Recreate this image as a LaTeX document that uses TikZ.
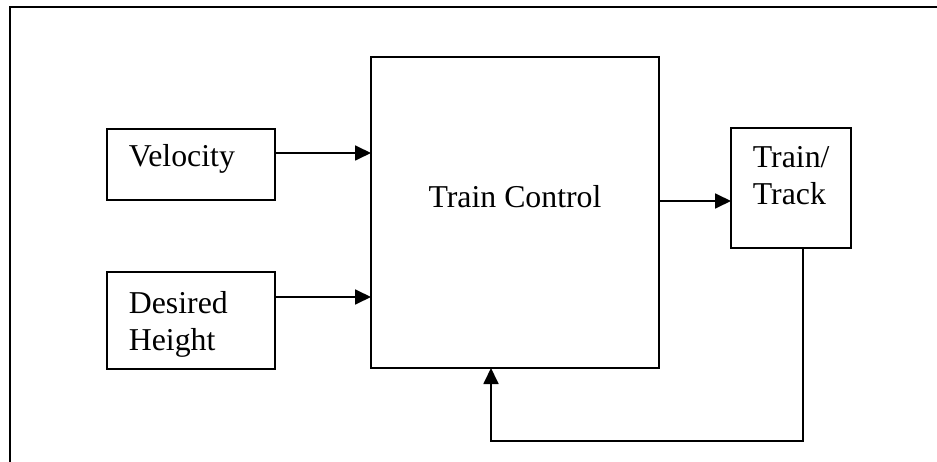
\documentclass[tikz,border=0pt]{standalone}
\usepackage{fontspec}
\setmainfont{Liberation Serif}
\usetikzlibrary{arrows.meta}

\begin{document}
\begin{tikzpicture}[x=1pt,y=-1pt,
  line width=1.8pt,
  blockbox/.style={draw=black, rectangle, inner sep=0pt, outer sep=0pt},
  lbl/.style={inner sep=0pt, anchor=base west, font=\fontsize{31.8}{37}\selectfont},
  flow/.style={-{Triangle[length=16pt,width=15pt]}, line join=miter}]

  \useasboundingbox (0,0) rectangle (937,462);

  % outer frame (runs off the right and bottom edges)
  \draw[line width=2pt] (940,7) -- (10,7) -- (10,465);

  % blocks
  \node[blockbox, minimum width=168pt, minimum height=71pt] (vel) at (191,164.5) {};
  \node[blockbox, minimum width=168pt, minimum height=97pt] (des) at (191,320.5) {};
  \node[blockbox, minimum width=288pt, minimum height=311pt] (ctl) at (515,212.5) {};
  \node[blockbox, minimum width=120pt, minimum height=120pt] (trk) at (791,188) {};

  % block labels
  \node[lbl] (velT) at (128,167) {Velocity};
  \node[lbl] (desT) at (128,313) {\begin{tabular}[t]{@{}l@{}}Desired\\Height\end{tabular}};
  \node[lbl, anchor=base] (ctlT) at (515,208) {Train Control};
  \node[lbl] (trkT) at (752,168) {\begin{tabular}[t]{@{}l@{}}Train/\\Track\end{tabular}};

  % connector levels
  \coordinate (l1) at (0,153);
  \coordinate (l2) at (0,297);
  \coordinate (l3) at (0,201);
  \coordinate (fbR) at (803,441);
  \coordinate (fbL) at (491,441);

  % signal flow
  \draw[flow] (vel.east |- l1) -- (ctl.west |- l1);
  \draw[flow] (des.east |- l2) -- (ctl.west |- l2);
  \draw[flow] (ctl.east |- l3) -- (trk.west |- l3);

  % feedback loop
  \draw[flow] (trk.south -| fbR) -- (fbR) -- (fbL) -- (ctl.south -| fbL);
\end{tikzpicture}
\end{document}
